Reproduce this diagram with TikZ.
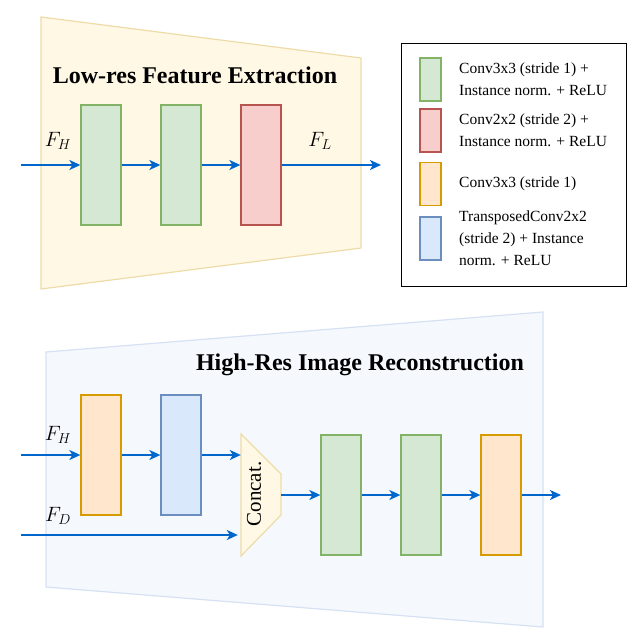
\documentclass[tikz,border=0pt]{standalone}
\usepackage{fontspec}
\setmainfont{Liberation Serif}
\usetikzlibrary{positioning,arrows.meta}

\definecolor{flowblue}{HTML}{0066CC}
\definecolor{greenfill}{HTML}{D5E8D4}
\definecolor{greenline}{HTML}{82B366}
\definecolor{redfill}{HTML}{F8CECC}
\definecolor{redline}{HTML}{B85450}
\definecolor{orangefill}{HTML}{FFE6CC}
\definecolor{orangeline}{HTML}{D79B00}
\definecolor{bluefill}{HTML}{DAE8FC}
\definecolor{blueline}{HTML}{6C8EBF}
\definecolor{lowfill}{HTML}{FFF8E5}
\definecolor{lowline}{HTML}{EEDCA8}
\definecolor{highfill}{HTML}{F5F9FE}
\definecolor{highline}{HTML}{D6E2F4}

\begin{document}
\begin{tikzpicture}[x=1pt,y=-1pt,
  blk/.style={draw, line width=1.3pt, inner sep=0pt, minimum width=40pt, minimum height=120pt},
  gbox/.style={fill=greenfill, draw=greenline},
  rbox/.style={fill=redfill, draw=redline},
  obox/.style={fill=orangefill, draw=orangeline},
  ubox/.style={fill=bluefill, draw=blueline},
  swatch/.style={draw, line width=1.3pt, inner sep=0pt, minimum width=21pt, minimum height=43pt},
  legtxt/.style={align=left, font=\fontsize{15.5}{22}\selectfont},
  flow/.style={draw=flowblue, line width=1.6pt, -{Stealth[length=11pt,width=10pt,inset=3pt]}},
  lbl/.style={font=\fontsize{21}{21}\selectfont},
  ttl/.style={font=\bfseries\fontsize{24}{24}\selectfont}]
  \useasboundingbox[fill=white] (0,0) rectangle (642,642);

  % low-res part
  \draw[fill=lowfill, draw=lowline, line width=1.2pt]
    (41,17) -- (361,58) -- (361,248) -- (41,289) -- cycle;
  \node[ttl] (lowtitle) at (195,75) {Low-res Feature Extraction};
  \node[blk, gbox] (g1) at (101,165) {};
  \node[blk, gbox] (g2) at (181,165) {};
  \node[blk, rbox] (r1) at (261,165) {};
  \coordinate (inFH) at (21,165);
  \coordinate (outFL) at (381,165);
  \draw[flow] (inFH) -- (g1);
  \draw[flow] (g1) -- (g2);
  \draw[flow] (g2) -- (r1);
  \draw[flow] (r1) -- (outFL);
  \node[lbl] (fhtop) at (58,141) {$F_H$};
  \node[lbl] (fl) at (320,141) {$F_L$};

  % legend
  \node[draw, line width=1pt, minimum width=225pt, minimum height=243pt] (legend) at (513.5,165) {};
  \node[swatch, gbox] (lg) at (430.5,79.5) {};
  \node[swatch, rbox] (lr) at (430.5,130.5) {};
  \node[swatch, obox] (lo) at (430.5,184) {};
  \node[swatch, ubox] (lu) at (430.5,238.5) {};
  \node[legtxt, right=14pt of lg] (tg) {Conv3x3 (stride 1) +\\Instance norm. + ReLU};
  \node[legtxt, right=14pt of lr] (tr) {Conv2x2 (stride 2) +\\Instance norm. + ReLU};
  \node[legtxt, right=14pt of lo] (to) {Conv3x3 (stride 1)};
  \node[legtxt, right=14pt of lu] (tu) {TransposedConv2x2\\(stride 2) + Instance\\norm. + ReLU};

  % high-res part
  \draw[fill=highfill, draw=highline, line width=1.2pt]
    (46,352) -- (543,312) -- (543,627) -- (46,587) -- cycle;
  \node[ttl] (hightitle) at (360,365) {High-Res Image Reconstruction};
  \node[blk, obox] (o1) at (101,455) {};
  \node[blk, ubox] (u1) at (181,455) {};
  \draw[fill=lowfill, draw=lowline, line width=1.2pt]
    (241,434) -- (281,474) -- (281,515) -- (241,556) -- cycle;
  \node[minimum width=40pt, minimum height=122pt, inner sep=0pt] (concat) at (261,495) {};
  \node[rotate=90, font=\fontsize{21}{21}\selectfont] (concattxt) at (254,494) {Concat.};
  \node[blk, gbox] (g3) at (341,495) {};
  \node[blk, gbox] (g4) at (421,495) {};
  \node[blk, obox] (o2) at (501,495) {};
  \coordinate (inFH2) at (21,455);
  \coordinate (inFD) at (21,535);
  \coordinate (outImg) at (561,495);
  \draw[flow] (inFH2) -- (o1);
  \draw[flow] (o1) -- (u1);
  \draw[flow] (u1) -- (u1.east -| concat.west);
  \draw[flow] (inFD) -- ([xshift=-3pt]inFD -| concat.west);
  \draw[flow] (concat) -- (g3);
  \draw[flow] (g3) -- (g4);
  \draw[flow] (g4) -- (o2);
  \draw[flow] (o2) -- (outImg);
  \node[lbl] (fhlow) at (58,435) {$F_H$};
  \node[lbl] (fd) at (58,516) {$F_D$};
\end{tikzpicture}
\end{document}
